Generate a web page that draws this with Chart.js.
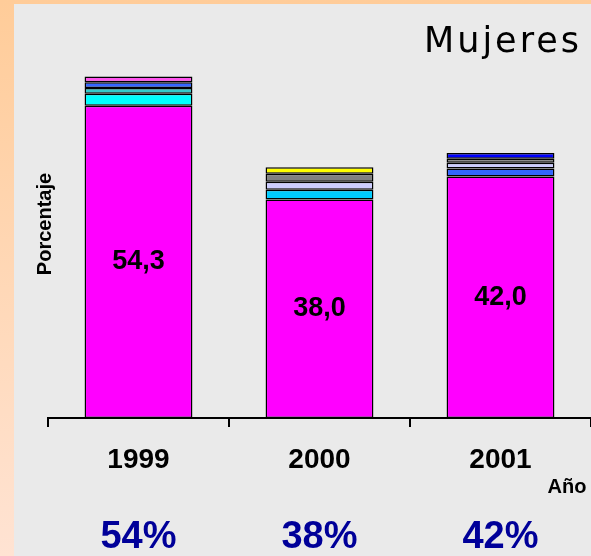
<!DOCTYPE html>
<html>
<head>
<meta charset="utf-8">
<script src="https://cdn.jsdelivr.net/npm/chart.js@4"></script>
<style>
  html, body { margin: 0; padding: 0; }
  body {
    width: 591px; height: 556px; overflow: hidden; position: relative;
    background: linear-gradient(#FFCC99, #FFE3D3);
  }
  #panel { position: absolute; left: 14px; top: 4px; width: 577px; height: 552px; background: #EAEAEA; }
</style>
</head>
<body>
<div id="panel"><canvas id="mujeresChart" width="577" height="552"></canvas></div>
<script>
const anios = ['1999', '2000', '2001'];
const porcentajes = ['54%', '38%', '42%'];

// segmento principal (magenta) y segmentos pequeños apilados encima
const principal = [54.3, 38.0, 42.0];
const cian      = [2.1, null, null];
const celeste   = [null, 1.7, null];
const turquesa  = [1.0, null, null];
const azul      = [1.0, null, 1.4];
const lavanda   = [null, 1.4, 1.0];
const gris      = [null, 1.4, 0.7];
const rosa      = [1.0, null, null];
const amarillo  = [null, 1.1, null];
const azulOsc   = [null, null, 1.0];

const series = [
    { label: 'Serie 1', data: principal, color: '#FF00FF' },
    { label: 'Serie 2', data: cian, color: '#00FFFF' },
    { label: 'Serie 3', data: celeste, color: '#00CCFF' },
    { label: 'Serie 4', data: turquesa, color: '#33CCCC' },
    { label: 'Serie 5', data: azul, color: '#3366FF' },
    { label: 'Serie 6', data: lavanda, color: '#CCCCFF' },
    { label: 'Serie 7', data: gris, color: '#808080' },
    { label: 'Serie 8', data: rosa, color: '#FF55EE' },
    { label: 'Serie 9', data: amarillo, color: '#FFFF00' },
    { label: 'Serie 10', data: azulOsc, color: '#0000FF' }
];

Chart.defaults.font.family = '"Liberation Sans", Arial, sans-serif';
Chart.defaults.color = '#000';

// textos extra: título, etiquetas de valor, eje y, "Año" y porcentajes
const textos = {
    id: 'textos',
    afterDraw(chart) {
        const ctx = chart.ctx;
        const x = chart.scales.x;
        ctx.save();
        ctx.fillStyle = '#000';

        // título
        ctx.font = '35px "DejaVu Sans", Verdana, sans-serif';
        ctx.textAlign = 'left';
        ctx.textBaseline = 'alphabetic';
        ctx.letterSpacing = '3px';
        ctx.fillText('Mujeres', 410, 48);
        ctx.letterSpacing = '0px';

        // valores dentro del segmento magenta
        ctx.font = 'bold 27px "Liberation Sans", Arial, sans-serif';
        ctx.textAlign = 'center';
        ctx.textBaseline = 'middle';
        chart.getDatasetMeta(0).data.forEach((bar, i) => {
            const txt = principal[i].toFixed(1).replace('.', ',');
            ctx.fillText(txt, bar.x, (bar.y + bar.base) / 2);
        });

        // título eje y
        ctx.font = 'bold 20px "Liberation Sans", Arial, sans-serif';
        ctx.save();
        ctx.translate(31, 220);
        ctx.rotate(-Math.PI / 2);
        ctx.fillText('Porcentaje', 0, 0);
        ctx.restore();

        // título eje x
        ctx.fillText('Año', 553, 483);

        // porcentajes
        ctx.font = 'bold 38px "Liberation Sans", Arial, sans-serif';
        ctx.fillStyle = '#000099';
        porcentajes.forEach((p, i) => {
            ctx.fillText(p, x.getPixelForValue(i), 534);
        });
        ctx.restore();
    }
};

const ctx = document.getElementById('mujeresChart').getContext('2d');
new Chart(ctx, {
    type: 'bar',
    data: {
        labels: anios,
        datasets: series.map(s => ({
            label: s.label,
            data: s.data,
            backgroundColor: s.color,
            borderColor: '#000',
            borderWidth: 1.5,
            borderSkipped: false,
            categoryPercentage: 1,
            barPercentage: 0.596
        }))
    },
    options: {
        responsive: false,
        animation: false,
        devicePixelRatio: 1,
        layout: { padding: { top: 69, left: 34, right: 0, bottom: 0 } },
        plugins: {
            legend: { display: false },
            title: { display: false },
            tooltip: { enabled: false }
        },
        scales: {
            x: {
                stacked: true,
                afterFit: scale => { scale.height = 138; },
                border: { display: true, color: '#000', width: 2 },
                grid: { drawOnChartArea: false, drawTicks: true, tickLength: 9, color: '#000', lineWidth: 2 },
                ticks: { padding: 16, font: { size: 28, weight: 'bold' }, color: '#000' }
            },
            y: {
                stacked: true,
                display: false,
                min: 0,
                max: 60
            }
        }
    },
    plugins: [textos]
});
</script>
</body>
</html>
